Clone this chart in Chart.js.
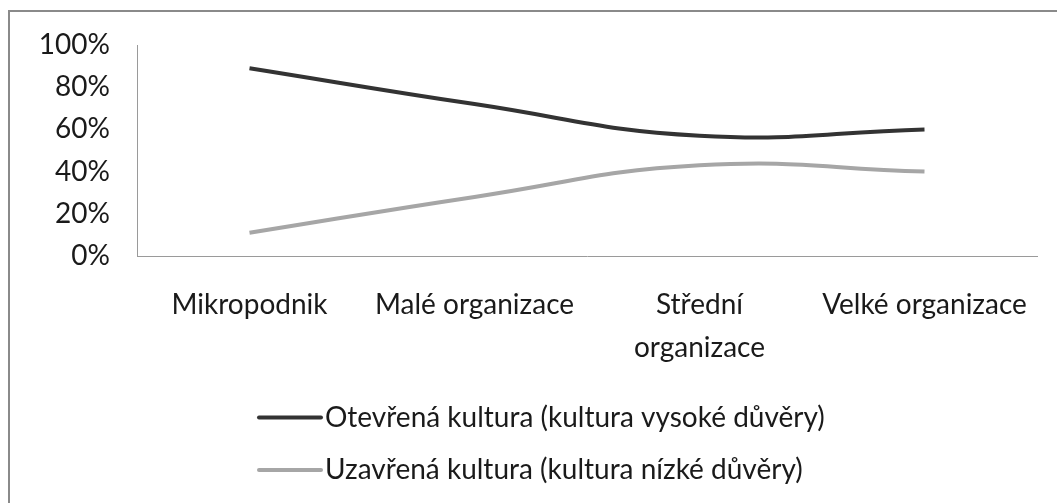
<!DOCTYPE html>
<html>
<head>
<meta charset="utf-8">
<script src="https://cdn.jsdelivr.net/npm/chart.js@4/dist/chart.umd.min.js"></script>
<style>
  html, body { margin: 0; padding: 0; background: #fff; overflow: hidden; }
  #wrap { position: relative; width: 1057px; height: 503px; }
  #frame { position: absolute; left: 8px; top: 10px; width: 1200px; height: 600px;
           border-left: 2px solid #8a8a8a; border-top: 2px solid #8a8a8a; box-sizing: border-box; }
  canvas { position: absolute; left: 0; top: 0; }
</style>
</head>
<body>
<div id="wrap">
  <div id="frame"></div>
  <canvas id="c" width="1057" height="503"></canvas>
</div>
<script>
const categories = ['Mikropodnik', 'Malé organizace', ['Střední', 'organizace'], 'Velké organizace'];
const openCulture = [89, 72, 57, 60];
const closedCulture = [11, 28, 43, 40];
const seriesNames = ['Otevřená kultura (kultura vysoké důvěry)', 'Uzavřená kultura (kultura nízké důvěry)'];
const yTickLabels = ['0%', '20%', '40%', '60%', '80%', '100%'];

const FONT = 'Lato, "Noto Sans", sans-serif';
const FSIZE = 28;
const TXT = '#1a1a1a';

const legendPlugin = {
  id: 'stackedLegend',
  afterDraw(chart) {
    const ctx = chart.ctx;
    const rows = [417.5, 470];
    ctx.save();
    chart.data.datasets.forEach((ds, i) => {
      const y = rows[i];
      ctx.strokeStyle = ds.borderColor;
      ctx.lineWidth = 4;
      ctx.lineCap = 'round';
      ctx.beginPath();
      ctx.moveTo(259, y);
      ctx.lineTo(321, y);
      ctx.stroke();
      ctx.fillStyle = TXT;
      ctx.font = FSIZE + 'px ' + FONT;
      ctx.textBaseline = 'middle';
      ctx.textAlign = 'left';
      ctx.fillText(ds.label, 325, y);
    });
    ctx.restore();
  }
};

new Chart(document.getElementById('c'), {
  type: 'line',
  data: {
    labels: categories,
    datasets: [
      { label: seriesNames[0], data: openCulture, borderColor: '#333333', backgroundColor: '#333333',
        borderWidth: 4, pointRadius: 0, tension: 0.45, fill: false },
      { label: seriesNames[1], data: closedCulture, borderColor: '#a6a6a6', backgroundColor: '#a6a6a6',
        borderWidth: 4, pointRadius: 0, tension: 0.45, fill: false }
    ]
  },
  options: {
    responsive: false,
    animation: false,
    devicePixelRatio: 1,
    layout: { padding: { left: 0, top: 45, right: 20, bottom: 127 } },
    plugins: { legend: { display: false }, tooltip: { enabled: false } },
    scales: {
      x: {
        offset: true,
        grid: { display: false, drawTicks: false },
        border: { display: true, color: '#9a9a9a', width: 1 },
        ticks: { color: TXT, font: { family: FONT, size: FSIZE, lineHeight: 1.55 }, padding: 27, maxRotation: 0, autoSkip: false },
        afterFit(scale) { scale.height = 120; }
      },
      y: {
        min: 0, max: 100,
        grid: { display: false, drawTicks: false },
        border: { display: true, color: '#9a9a9a', width: 1 },
        ticks: { stepSize: 20, color: TXT, font: { family: FONT, size: FSIZE }, padding: 27,
                 callback: (v, i) => yTickLabels[i] },
        afterFit(scale) { scale.width = 137; }
      }
    }
  },
  plugins: [legendPlugin]
});
</script>
</body>
</html>
